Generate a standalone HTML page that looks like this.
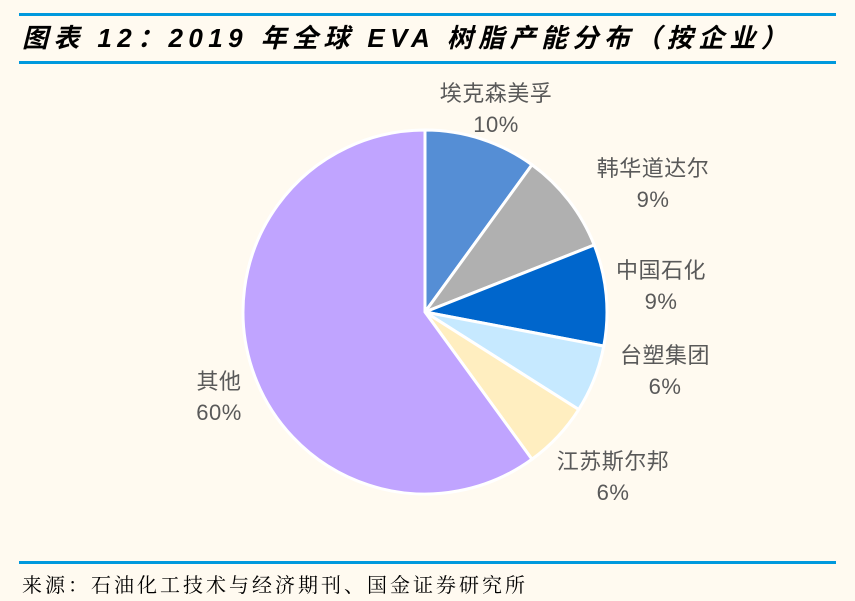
<!DOCTYPE html>
<html><head><meta charset="utf-8"><style>
body{margin:0;width:855px;height:601px;background:#FFFAF0;overflow:hidden;position:relative;font-family:"Liberation Sans","Noto Sans CJK SC",sans-serif}
.line{position:absolute;left:19px;width:817px;height:3px;background:#0099DD}
#title{position:absolute;left:22px;top:18px;font-size:26px;letter-spacing:5.4px;font-weight:bold;font-style:italic;color:#000;white-space:nowrap}
#src{position:absolute;left:22px;top:569px;font-size:20px;letter-spacing:3px;font-family:"Liberation Serif","Noto Serif CJK SC",serif;color:#000;white-space:nowrap}
</style></head><body>
<div class="line" style="top:13px"></div>
<div id="title">图表 12：2019 年全球 EVA 树脂产能分布（按企业）</div>
<div class="line" style="top:61px"></div>
<svg id="chart" width="855" height="601" style="position:absolute;left:0;top:0"></svg>
<div class="line" style="top:561px"></div>
<div id="src">来源：石油化工技术与经济期刊、国金证券研究所</div>
<script>
const categories=["埃克森美孚","韩华道达尔","中国石化","台塑集团","江苏斯尔邦","其他"];
const values=[10,9,9,6,6,60];
const colors=["#558ED5","#B0B0B0","#0066CC","#C6E9FF","#FFEEC0","#C0A4FF"];
const labelPos=[[496,93],[653,168],[661,270],[665,355],[613,461],[219,381]];
const NS="http://www.w3.org/2000/svg";
const svg=document.getElementById('chart');
const cx=425,cy=312,r=182;
const total=values.reduce((a,b)=>a+b,0);
function pt(a,rr){return [cx+rr*Math.sin(a),cy-rr*Math.cos(a)];}
let acc=0;
values.forEach((v,i)=>{
  const a0=acc/total*2*Math.PI;acc+=v;const a1=acc/total*2*Math.PI;
  const p0=pt(a0,r),p1=pt(a1,r);
  const p=document.createElementNS(NS,'path');
  p.setAttribute('d',`M${cx},${cy}L${p0[0]},${p0[1]}A${r},${r} 0 ${a1-a0>Math.PI?1:0} 1 ${p1[0]},${p1[1]}Z`);
  p.setAttribute('fill',colors[i]);p.setAttribute('stroke','#fff');p.setAttribute('stroke-width','3');
  
  
  svg.appendChild(p);
  const [lx,ly]=labelPos[i];
  [[categories[i],ly],[v+'%',ly+31]].forEach((t,j)=>{
    const tx=document.createElementNS(NS,'text');
    tx.setAttribute('x',lx);tx.setAttribute('y',t[1]+8);tx.setAttribute('text-anchor','middle');
    tx.setAttribute('font-size','22');tx.setAttribute('letter-spacing','0.5');tx.setAttribute('fill','#595959');
    tx.setAttribute('font-family','"Liberation Sans","Noto Sans CJK SC",sans-serif');
    tx.textContent=t[0];
    
    
    svg.appendChild(tx);
  });
});
</script>
</body></html>
